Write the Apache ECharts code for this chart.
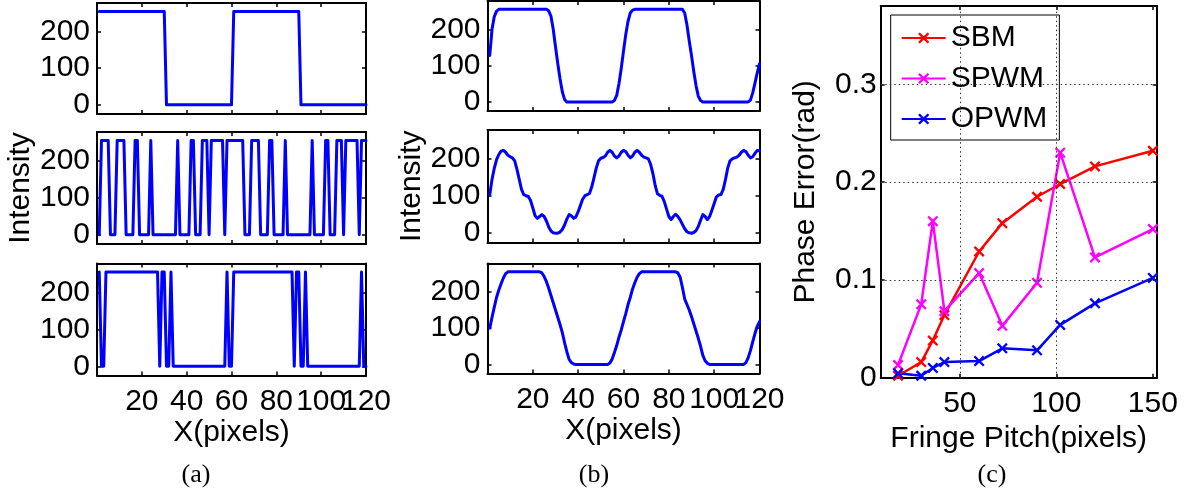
<!DOCTYPE html>
<html>
<head>
<meta charset="utf-8">
<script src="https://cdn.jsdelivr.net/npm/echarts@6/dist/echarts.min.js"></script>
<style>
html, body { margin: 0; padding: 0; background: #fff; }
#chart { width: 1191px; height: 497px; }
</style>
</head>
<body>
<div id="chart"></div>
<script>
// ---- (a) binary fringe patterns, one sample per pixel, x = 1..120 ----
const sbmBinary = [
  255,255,255,255,255,255,255,255,255,255,255,255,255,255,255,255,255,255,255,255,
  255,255,255,255,255,255,255,255,255,255,0,0,0,0,0,0,0,0,0,0,
  0,0,0,0,0,0,0,0,0,0,0,0,0,0,0,0,0,0,0,0,
  255,255,255,255,255,255,255,255,255,255,255,255,255,255,255,255,255,255,255,255,
  255,255,255,255,255,255,255,255,255,255,0,0,0,0,0,0,0,0,0,0,
  0,0,0,0,0,0,0,0,0,0,0,0,0,0,0,0,0,0,0,0
];
const spwmBinary = [
  0,255,255,255,255,0,0,0,255,255,255,255,0,0,0,0,255,255,0,0,
  0,0,0,255,0,0,0,0,0,0,0,0,0,0,0,255,0,0,0,0,
  0,255,255,0,0,0,255,255,255,0,255,255,255,255,255,255,0,255,255,255,
  255,255,255,255,255,0,0,0,255,255,255,255,0,0,0,0,255,255,0,0,
  0,0,0,255,0,0,0,0,0,0,0,0,0,0,0,255,0,0,0,0,
  0,255,255,0,0,0,255,255,255,0,255,255,255,255,255,255,0,255,255,255
];
const opwmBinary = [
  255,0,0,255,255,255,255,255,255,255,255,255,255,255,255,255,255,255,255,255,
  255,255,255,255,255,255,255,0,255,255,0,0,255,0,0,0,0,0,0,0,
  0,0,0,0,0,0,0,0,0,0,0,0,0,0,0,0,0,255,0,0,
  255,255,255,255,255,255,255,255,255,255,255,255,255,255,255,255,255,255,255,255,
  255,255,255,255,255,255,255,0,255,255,0,0,255,0,0,0,0,0,0,0,
  0,0,0,0,0,0,0,0,0,0,0,0,0,0,0,0,0,255,0,0
];

// ---- (b) defocused patterns ----
const sbmBlurX = [1,2,3,4,5,26,27,28,29,30,31,32,33,34,35,55,56,57,58,59,60,61,62,63,64,65,86,87,88,89,90,91,92,93,94,95,115,116,117,118,119,120];
const sbmBlurY = [128,200,235,250,255,255,251,236,200,152,106,64,28,7,0,0,4,18,50,92,140,186,222,245,253,255,255,245,212,168,128,84,45,16,4,0,0,5,25,52,80,105];

const spwmBlurY = [
  104,145,175,198,212,221,223,218,210,206,203,195,172,145,118,104,101,99,88,68,
  47,40,45,50,45,33,17,6,1,0,0,3,10,22,38,50,47,40,44,58,
  75,92,101,104,107,125,150,176,195,202,204,208,218,223,218,208,203,208,218,223,
  220,210,203,208,218,223,218,210,205,203,200,185,160,128,106,102,99,85,65,45,
  37,45,51,45,36,24,12,4,1,0,2,7,18,35,50,45,37,45,62,80,
  98,103,104,118,145,176,195,200,203,205,210,218,223,220,210,203,206,215,223,222
];

const opwmBlurX = [1,2,3,4,5,6,7,8,9,23,24,25,26,27,28,29,30,31,32,33,34,35,36,37,38,39,53,54,55,56,57,58,59,60,61,62,63,64,65,66,67,68,83,84,85,86,87,88,89,90,91,92,93,94,95,96,97,98,113,114,115,116,117,118,119,120];
const opwmBlurY = [100,130,158,185,205,222,238,250,255,255,252,242,228,210,190,170,150,130,110,88,60,35,14,5,1,0,0,4,15,33,52,75,95,118,140,165,185,208,225,240,250,255,255,252,240,212,180,165,150,132,112,92,72,50,25,10,3,0,0,5,18,38,62,85,105,118];

// ---- (c) phase error versus fringe pitch ----
const fringePitch = [18, 30, 36, 42, 60, 72, 90, 102, 120, 150];
const errSBM  = [0.002, 0.016, 0.038, 0.064, 0.129, 0.158, 0.185, 0.198, 0.216, 0.232];
const errSPWM = [0.013, 0.075, 0.160, 0.068, 0.107, 0.053, 0.097, 0.230, 0.123, 0.152];
const errOPWM = [0.0045, 0.002, 0.010, 0.016, 0.017, 0.030, 0.028, 0.054, 0.076, 0.102];

// ---- tick labels ----
const pixelTicks = [20, 40, 60, 80, 100, 120];
const intensityTicks = [0, 100, 200];
const pitchTicks = [50, 100, 150];
const errorTicks = [0, 0.1, 0.2, 0.3];

const FONT = '"Liberation Sans", Arial, Helvetica, sans-serif';
const BLUE = '#0000ff';

const chart = echarts.init(document.getElementById('chart'), null, { renderer: 'canvas' });

const grids = [
  { left: 97,    top: 3,     width: 269, height: 111 },   // (a) top
  { left: 97,    top: 132,   width: 269, height: 112 },   // (a) middle
  { left: 97,    top: 263.5, width: 269, height: 112 },   // (a) bottom
  { left: 487.5, top: 1,     width: 272, height: 110 },   // (b) top
  { left: 487.5, top: 130,   width: 272, height: 112.5 }, // (b) middle
  { left: 487.5, top: 263.5, width: 272, height: 110 },   // (b) bottom
  { left: 880.7, top: 6,     width: 276, height: 371.7 }  // (c)
];

const xAxes = [];
const yAxes = [];
const mainX = [];
const mainY = [];

const labelStyle = { fontSize: 30, fontFamily: FONT, color: '#000' };

function axisBase(g, pos, min, max, ticks, labels, margin) {
  return {
    type: 'value', gridIndex: g, position: pos, min: min, max: max,
    axisLine: { show: true, onZero: false, lineStyle: { color: '#000', width: 2 } },
    axisTick: { show: true, inside: true, length: 4, customValues: ticks,
                lineStyle: { color: '#000', width: 1.5 } },
    axisLabel: Object.assign({ show: !!labels, customValues: labels || ticks, margin: margin,
                 interval: 0, hideOverlap: false }, labelStyle),
    splitLine: { show: false }
  };
}

// label-only bottom axis, so the label at the right edge is kept even where it touches its neighbour
function edgeLabelAxis(g, min, max, labels) {
  return {
    type: 'value', gridIndex: g, position: 'bottom', min: min, max: max,
    axisLine: { show: false, onZero: false },
    axisTick: { show: false },
    axisLabel: Object.assign({ show: true, customValues: labels, margin: 11,
                 showMinLabel: true, showMaxLabel: true, hideOverlap: false }, labelStyle),
    splitLine: { show: false }
  };
}

function addBox(g, xr, xt, showX, xName, xGap, yr, yt, yName, yGap, yMargin) {
  const inner = xt.filter(v => v < xr[1]);
  const edge = xt.filter(v => v >= xr[1]);
  const xb = axisBase(g, 'bottom', xr[0], xr[1], xt, showX ? inner : null, 11);
  if (xName) {
    Object.assign(xb, { name: xName, nameLocation: 'middle', nameGap: xGap,
      nameTextStyle: labelStyle });
  }
  mainX.push(xAxes.length);
  xAxes.push(xb, axisBase(g, 'top', xr[0], xr[1], xt, null, 8));
  if (showX && edge.length) xAxes.push(edgeLabelAxis(g, xr[0], xr[1], edge));

  const yl = axisBase(g, 'left', yr[0], yr[1], yt, yt, yMargin);
  if (yName) {
    Object.assign(yl, { name: yName, nameLocation: 'middle', nameGap: yGap,
      nameTextStyle: labelStyle });
  }
  mainY.push(yAxes.length);
  yAxes.push(yl, axisBase(g, 'right', yr[0], yr[1], yt, null, 8));
}

const intensityRange = [-25, 278];
const pixelRange = [0, 120];

addBox(0, pixelRange, pixelTicks, false, '', 0, intensityRange, intensityTicks, '', 0, 7);
addBox(1, pixelRange, pixelTicks, false, '', 0, intensityRange, intensityTicks, 'Intensity', 49, 7);
addBox(2, pixelRange, pixelTicks, true, 'X(pixels)', 34, intensityRange, intensityTicks, '', 0, 7);
addBox(3, pixelRange, pixelTicks, false, '', 0, intensityRange, intensityTicks, '', 0, 7);
addBox(4, pixelRange, pixelTicks, false, '', 0, intensityRange, intensityTicks, 'Intensity', 49, 7);
addBox(5, pixelRange, pixelTicks, true, 'X(pixels)', 34, intensityRange, intensityTicks, '', 0, 7);
addBox(6, [9, 152], pitchTicks, true, 'Fringe Pitch(pixels)', 37, [0, 0.38], errorTicks, 'Phase Error(rad)', 60, 4);

function indexed(values) {
  return values.map((v, i) => [i + 1, v]);
}
function paired(xs, ys) {
  return xs.map((x, i) => [x, ys[i]]);
}
function profile(g, data) {
  return {
    type: 'line', xAxisIndex: mainX[g], yAxisIndex: mainY[g], data: data,
    showSymbol: false, symbol: 'none', animation: false, silent: true,
    lineStyle: { color: BLUE, width: 3, join: 'round', cap: 'round' }
  };
}

const crossPath = 'path://M0,1.5L1.5,0L5,3.5L8.5,0L10,1.5L6.5,5L10,8.5L8.5,10L5,6.5L1.5,10L0,8.5L3.5,5Z';

function errorLine(name, color, values) {
  return {
    name: name, type: 'line', xAxisIndex: mainX[6], yAxisIndex: mainY[6], z: 3,
    data: paired(fringePitch, values),
    symbol: crossPath, symbolSize: 11, showSymbol: true, animation: false,
    itemStyle: { color: color, borderWidth: 0 },
    lineStyle: { color: color, width: 2.5 }
  };
}

const series = [
  profile(0, indexed(sbmBinary)),
  profile(1, indexed(spwmBinary)),
  profile(2, indexed(opwmBinary)),
  profile(3, paired(sbmBlurX, sbmBlurY)),
  profile(4, indexed(spwmBlurY)),
  profile(5, paired(opwmBlurX, opwmBlurY)),
  {
    // dotted grid of panel (c)
    type: 'line', xAxisIndex: mainX[6], yAxisIndex: mainY[6], data: [], z: 1,
    silent: true, animation: false,
    markLine: {
      silent: true, symbol: ['none', 'none'], animation: false,
      label: { show: false },
      lineStyle: { type: [1.5, 3], color: '#333', width: 1 },
      data: pitchTicks.filter(v => v < 150).map(v => ({ xAxis: v }))
        .concat(errorTicks.filter(v => v > 0).map(v => ({ yAxis: v })))
    }
  },
  errorLine('SBM', '#ff0000', errSBM),
  errorLine('SPWM', '#ff00ff', errSPWM),
  errorLine('OPWM', '#0000ff', errOPWM)
];

// subfigure captions, centred under each third of the figure
function caption(text, x) {
  return {
    type: 'text', x: x, y: 475, silent: true,
    style: { text: text, font: '26px "Liberation Serif", "DejaVu Serif", serif',
             fill: '#000', align: 'center', verticalAlign: 'middle' }
  };
}

chart.setOption({
  backgroundColor: '#ffffff',
  animation: false,
  grid: grids,
  xAxis: xAxes,
  yAxis: yAxes,
  legend: {
    data: ['SBM', 'SPWM', 'OPWM'],
    orient: 'vertical', left: 890.7, top: 15,
    padding: [8, 12, 6, 10], itemGap: 10.5,
    itemWidth: 44, itemHeight: 14,
    borderColor: '#000', borderWidth: 1, backgroundColor: '#fff',
    selectedMode: false,
    textStyle: { fontSize: 30, fontFamily: FONT, color: '#000', lineHeight: 30 }
  },
  series: series,
  graphic: [caption('(a)', 196), caption('(b)', 594), caption('(c)', 992)]
});
</script>
</body>
</html>
